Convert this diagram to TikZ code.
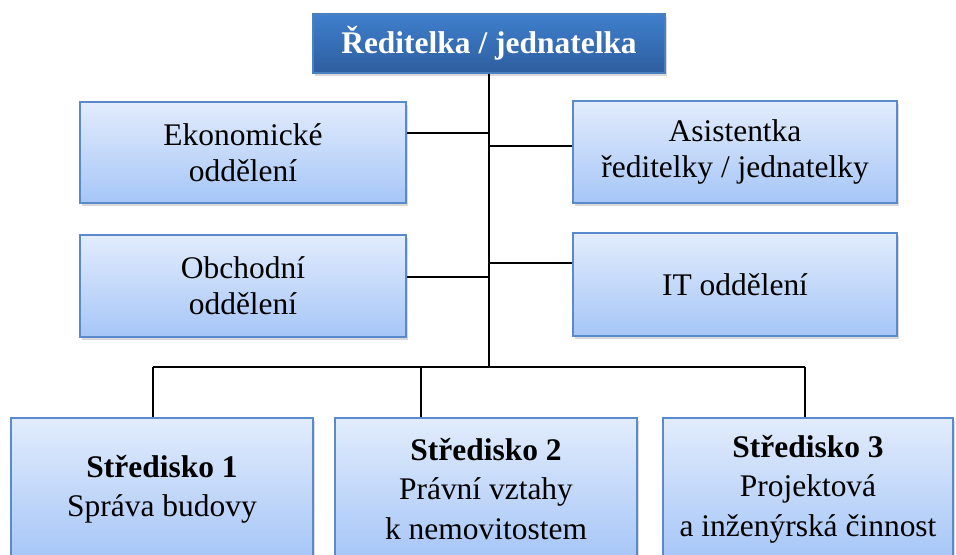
\documentclass[tikz,border=0pt]{standalone}
\usepackage{fontspec}
\setmainfont{Liberation Serif}
\usetikzlibrary{shadows}
\definecolor{topA}{HTML}{3F7FCC}
\definecolor{topB}{HTML}{2E5E9F}
\definecolor{topE}{HTML}{4A7FC0}
\definecolor{boxA}{HTML}{E2ECFC}
\definecolor{boxB}{HTML}{A6C6F7}
\definecolor{boxE}{HTML}{5A8ACB}
\begin{document}
\begin{tikzpicture}[x=0.75pt,y=-0.75pt,
  shad/.style={drop shadow={opacity=0.3, shadow xshift=1.2pt, shadow yshift=-2pt}},
  box/.style={shad, draw=boxE, line width=0.9pt, top color=boxA, bottom color=boxB,
    align=center, inner sep=0pt, font=\fontsize{23.6}{27}\selectfont},
  bbox/.style={box, minimum height=106.5pt, font=\fontsize{23.6}{29.5}\selectfont},
  topbox/.style={shad, draw=topE, line width=0.9pt, top color=topA, bottom color=topB,
    text=white, align=center, inner sep=0pt, font=\fontsize{23.6}{27}\selectfont\bfseries},
  conn/.style={draw=black, line width=1pt}]
\useasboundingbox (0,0) rectangle (956,554);

\node[topbox, minimum width=264pt, minimum height=44.25pt] (dir) at (489,43.5) {Ředitelka / jednatelka};
\node[box, minimum width=244.5pt, minimum height=75.75pt] (eko) at (243,152.5) {Ekonomické\\oddělení};
\node[box, minimum width=243pt, minimum height=76.5pt] (asi) at (735,152) {Asistentka\\ředitelky / jednatelky};
\node[box, minimum width=244.5pt, minimum height=76.5pt] (obch) at (243,286) {Obchodní\\oddělení};
\node[box, minimum width=243pt, minimum height=77.25pt] (it) at (735,284.5) {IT oddělení};
\node[bbox, minimum width=226.5pt] (s1) at (162,489) {\textbf{Středisko 1}\\Správa budovy};
\node[bbox, minimum width=226.5pt] (s2) at (486,489) {\textbf{Středisko 2}\\Právní vztahy\\k nemovitostem};
\node[bbox, minimum width=217.5pt] (s3) at (808,489) {\textbf{Středisko 3}\\Projektová\\a inženýrská činnost};

\coordinate (tb) at (489,367);
\coordinate (j1) at (489,133);
\coordinate (j2) at (489,146);
\coordinate (j3) at (489,277);
\coordinate (j4) at (489,263);
\coordinate (b1) at (153,367);
\coordinate (b2) at (421,367);
\coordinate (b3) at (805,367);

\draw[conn] (dir.south) -- (tb);
\draw[conn] (j1) -- (eko.east |- j1);
\draw[conn] (j2) -- (asi.west |- j2);
\draw[conn] (j3) -- (obch.east |- j3);
\draw[conn] (j4) -- (it.west |- j4);
\draw[conn] (b1) -- (b3);
\draw[conn] (b1) -- (s1.north -| b1);
\draw[conn] (b2) -- (s2.north -| b2);
\draw[conn] (b3) -- (s3.north -| b3);
\end{tikzpicture}
\end{document}
